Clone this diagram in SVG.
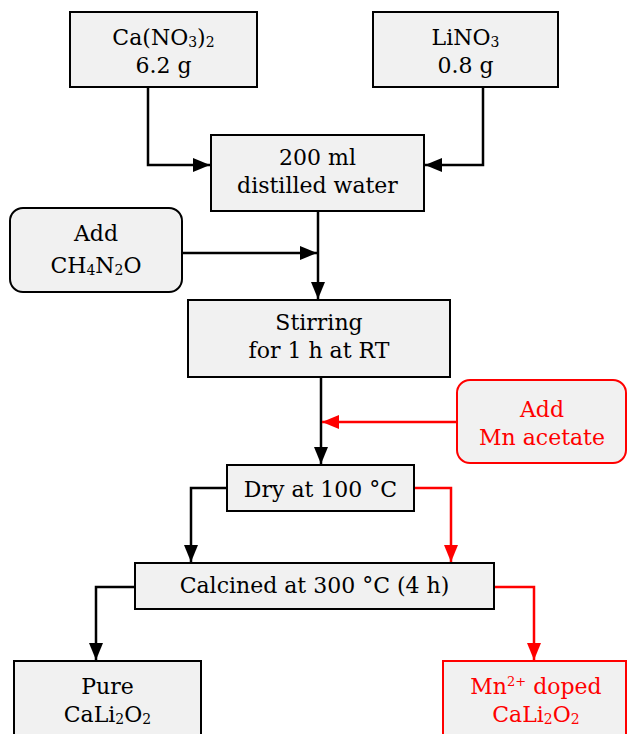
<svg xmlns="http://www.w3.org/2000/svg" width="627" height="734" viewBox="0 0 627 734">
<style>
.box{fill:#f1f1f1;stroke:#000;stroke-width:2}
.rbox{fill:#f1f1f1;stroke:#ff0000;stroke-width:2}
text{font-family:"DejaVu Serif","Liberation Serif",serif;font-size:22px;fill:#000;text-anchor:middle}
.red{fill:#ff0000}
.sub{font-size:14px}
.sup{font-size:13px}
.ln{fill:none;stroke:#000;stroke-width:2.5}
.rln{fill:none;stroke:#ff0000;stroke-width:2.5}
</style>
<defs>
<marker id="ab" markerUnits="userSpaceOnUse" markerWidth="18" markerHeight="15" refX="17" refY="7.5" orient="auto"><path d="M0,0.5 L17,7.5 L0,14.5 z" fill="#000"/></marker>
<marker id="ar" markerUnits="userSpaceOnUse" markerWidth="18" markerHeight="15" refX="17" refY="7.5" orient="auto"><path d="M0,0.5 L17,7.5 L0,14.5 z" fill="#ff0000"/></marker>
</defs>
<g id="connectors">
<path class="ln" d="M148,87 V165 H210" marker-end="url(#ab)"/>
<path class="ln" d="M483,87 V165 H425" marker-end="url(#ab)"/>
<path class="ln" d="M318,211 V299" marker-end="url(#ab)"/>
<path class="ln" d="M182,253 H317" marker-end="url(#ab)"/>
<path class="ln" d="M321,377 V464" marker-end="url(#ab)"/>
<path class="rln" d="M457,422 H322" marker-end="url(#ar)"/>
<path class="ln" d="M227,488 H191 V562" marker-end="url(#ab)"/>
<path class="rln" d="M414,488 H451 V562" marker-end="url(#ar)"/>
<path class="ln" d="M135,587 H96 V660" marker-end="url(#ab)"/>
<path class="rln" d="M494,587 H534 V660" marker-end="url(#ar)"/>
</g>
<g id="caNO3">
<rect class="box" x="70" y="12" width="187" height="75"/>
<text x="163.5" y="45">Ca(NO<tspan class="sub" dy="2">3</tspan><tspan dy="-2">)</tspan><tspan class="sub" dy="2">2</tspan></text>
<text x="163.5" y="73">6.2 g</text>
</g>
<g id="liNO3">
<rect class="box" x="373" y="12" width="185" height="75"/>
<text x="465.5" y="45">LiNO<tspan class="sub" dy="2">3</tspan></text>
<text x="465.5" y="73">0.8 g</text>
</g>
<g id="water">
<rect class="box" x="211" y="135" width="213" height="76"/>
<text x="317.5" y="165">200 ml</text>
<text x="317.5" y="193">distilled water</text>
</g>
<g id="urea">
<rect class="box" x="10" y="208" width="172" height="84" rx="13"/>
<text x="96" y="241">Add</text>
<text x="96" y="273">CH<tspan class="sub" dy="2">4</tspan><tspan dy="-2">N</tspan><tspan class="sub" dy="2">2</tspan><tspan dy="-2">O</tspan></text>
</g>
<g id="stirring">
<rect class="box" x="188" y="300" width="262" height="77"/>
<text x="319" y="330">Stirring</text>
<text x="319" y="358">for 1 h at RT</text>
</g>
<g id="mnacetate">
<rect class="rbox" x="457" y="380" width="169" height="83" rx="13"/>
<text class="red" x="542" y="417">Add</text>
<text class="red" x="542" y="445">Mn acetate</text>
</g>
<g id="dry">
<rect class="box" x="227" y="465" width="187" height="46"/>
<text x="320.5" y="497">Dry at 100 °C</text>
</g>
<g id="calcined">
<rect class="box" x="135" y="563" width="359" height="46"/>
<text x="314.5" y="593">Calcined at 300 °C (4 h)</text>
</g>
<g id="pure">
<rect class="box" x="14" y="661" width="187" height="80"/>
<text x="107.5" y="694">Pure</text>
<text x="107.5" y="722">CaLi<tspan class="sub" dy="2">2</tspan><tspan dy="-2">O</tspan><tspan class="sub" dy="2">2</tspan></text>
</g>
<g id="doped">
<rect class="rbox" x="443" y="661" width="183" height="80"/>
<text class="red" x="536" y="694">Mn<tspan class="sup" dy="-8">2+</tspan><tspan dy="8"> doped</tspan></text>
<text class="red" x="536" y="722">CaLi<tspan class="sub" dy="2">2</tspan><tspan dy="-2">O</tspan><tspan class="sub" dy="2">2</tspan></text>
</g>
</svg>
